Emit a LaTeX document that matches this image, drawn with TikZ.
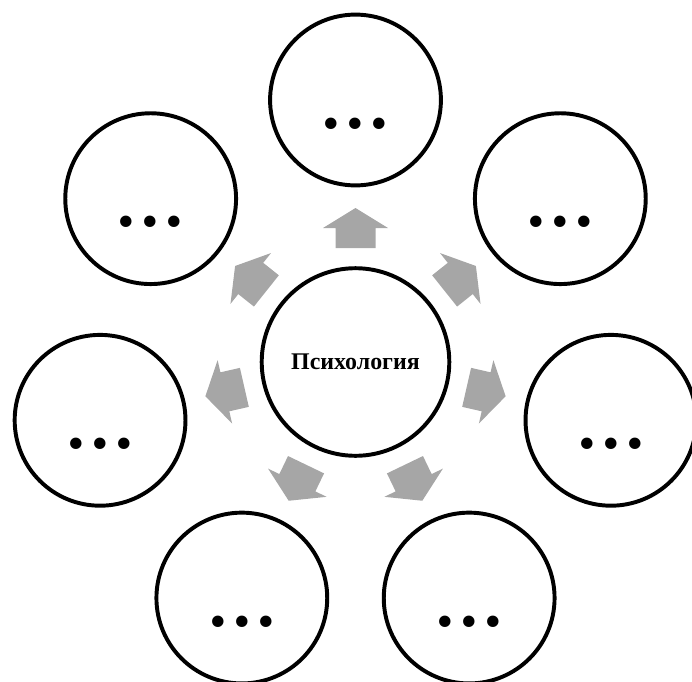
\documentclass[tikz,border=0pt]{standalone}
\usepackage{fontspec}
\setmainfont{Liberation Serif}
\usetikzlibrary{positioning}

\begin{document}
\begin{tikzpicture}[
  bubble/.style = {circle, draw, line width = 2.8pt, minimum size = 4.27cm, inner sep = 0pt},
  dots/.style = {font = \fontsize{50}{60}\selectfont\bfseries, inner sep = 0pt, anchor = base},
  arrowgray/.style = {fill = black!35}
]
% Fix picture size
\useasboundingbox (-8.8875,-7.975) rectangle (8.4125,9.05);

% Central circle
\node[bubble, minimum size = 4.69cm, font = \fontsize{17}{20}\selectfont\bfseries] (psy) at (0,0) {Психология};

% Outer circles with dots
\foreach \i in {0,...,6} {
  \node[bubble] (out\i) at (90-\i*360/7:6.55) {};
  \node[dots] (dots\i) at ([yshift=-0.7cm]out\i.center) {.\hspace{0.16cm}.\hspace{0.16cm}.};
}

% Grey block arrows pointing outwards
\foreach \i in {0,...,6} {
  \fill[arrowgray, rotate = 90-\i*360/7] (2.85,-0.5) -- (3.35,-0.5) -- (3.35,-0.8125) -- (3.85,0) -- (3.35,0.8125) -- (3.35,0.5) -- (2.85,0.5) -- cycle;
}
\end{tikzpicture}
\end{document}
